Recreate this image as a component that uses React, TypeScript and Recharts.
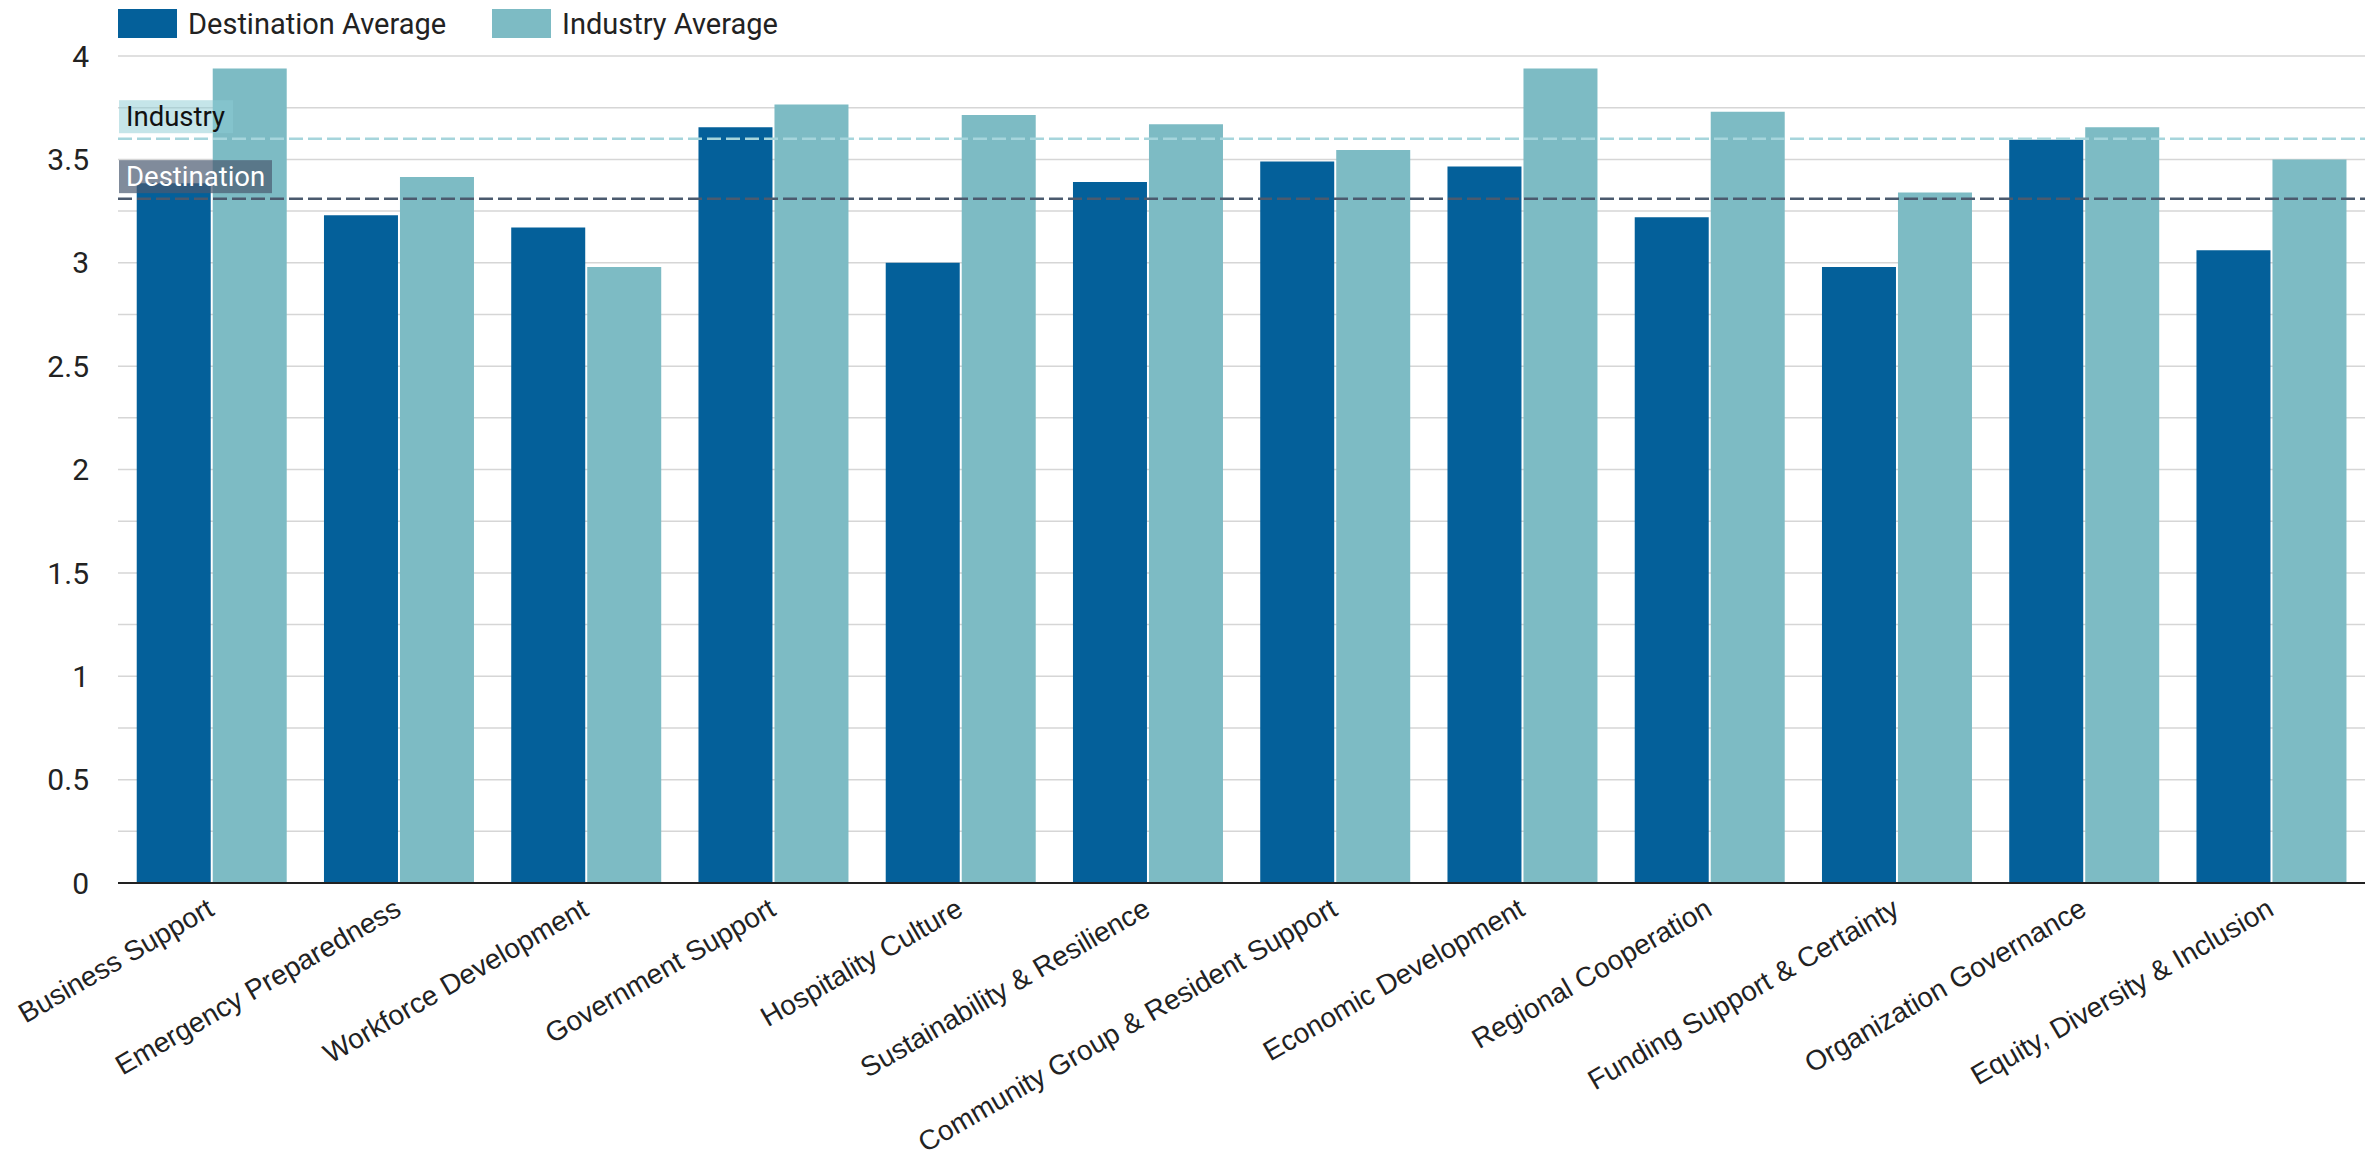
import React from "react";
import {
  BarChart,
  Bar,
  XAxis,
  YAxis,
  CartesianGrid,
  ReferenceLine,
} from "recharts";

const categories = [
  "Business Support",
  "Emergency Preparedness",
  "Workforce Development",
  "Government Support",
  "Hospitality Culture",
  "Sustainability & Resilience",
  "Community Group & Resident Support",
  "Economic Development",
  "Regional Cooperation",
  "Funding Support & Certainty",
  "Organization Governance",
  "Equity, Diversity & Inclusion",
];

const destinationAverage = [3.385, 3.23, 3.17, 3.655, 3.0, 3.39, 3.49, 3.465, 3.22, 2.98, 3.595, 3.06];
const industryAverage = [3.94, 3.415, 2.98, 3.765, 3.715, 3.67, 3.545, 3.94, 3.73, 3.34, 3.655, 3.5];

const yTicks = [0, 0.25, 0.5, 0.75, 1, 1.25, 1.5, 1.75, 2, 2.25, 2.5, 2.75, 3, 3.25, 3.5, 3.75, 4];

const industryRef = 3.6;
const destinationRef = 3.31;

const seriesNames = ["Destination Average", "Industry Average"];

const DARK = "#04609a";
const LIGHT = "#7dbbc4";

const data = categories.map((c, i) => ({
  name: c,
  destination: destinationAverage[i],
  industry: industryAverage[i],
}));

const XTick = (props: any) => {
  const { x, y, payload } = props;
  const tx = x + 4;
  const ty = y + 31;
  return (
    <text
      x={tx}
      y={ty}
      transform={`rotate(-30, ${tx}, ${ty})`}
      textAnchor="end"
      fontFamily="'Liberation Sans', Arial, sans-serif"
      fontSize={28}
      fill="#222"
    >
      {payload.value}
    </text>
  );
};

const RefLabel = (props: any) => {
  const { viewBox, text, boxWidth, fill, opacity, color } = props;
  if (!viewBox) return null;
  const x = viewBox.x + 1;
  const y = viewBox.y;
  return (
    <g>
      <rect x={x} y={y - 38.5} width={boxWidth} height={33} fill={fill} fillOpacity={opacity} />
      <text
        x={x + 7}
        y={y - 12.5}
        fontFamily="Roboto, sans-serif"
        fontSize={27.5}
        fill={color}
      >
        {text}
      </text>
    </g>
  );
};

const Legend = () => (
  <div style={{ position: "absolute", left: 0, top: 0, width: 900, height: 50, fontFamily: "Roboto, sans-serif", fontSize: 29, color: "#222" }}>
    <div style={{ position: "absolute", left: 118, top: 9, width: 59, height: 29, background: DARK }} />
    <div style={{ position: "absolute", left: 188, top: 5, lineHeight: "38px" }}>{seriesNames[0]}</div>
    <div style={{ position: "absolute", left: 492, top: 9, width: 59, height: 29, background: LIGHT }} />
    <div style={{ position: "absolute", left: 562, top: 5, lineHeight: "38px" }}>{seriesNames[1]}</div>
  </div>
);

export default function App() {
  return (
    <div style={{ position: "absolute", left: 0, top: 0, width: 2374, height: 1153, background: "#fff" }}>
      <BarChart
        width={2374}
        height={1153}
        data={data}
        margin={{ top: 56, right: 9, bottom: 10, left: 0 }}
        barCategoryGap="10%"
        barGap={2}
      >
        <CartesianGrid vertical={false} stroke="#d6d6d6" strokeWidth={1.5} />
        <XAxis
          dataKey="name"
          interval={0}
          height={260}
          tickLine={false}
          tickSize={0}
          tickMargin={0}
          axisLine={{ stroke: "#222", strokeWidth: 2 }}
          tick={<XTick />}
        />
        <YAxis
          width={118}
          domain={[0, 4]}
          ticks={yTicks}
          interval={0}
          axisLine={false}
          tickLine={false}
          tickSize={0}
          tickMargin={29}
          tickFormatter={(v: number) => (Math.abs(v * 2 - Math.round(v * 2)) < 1e-6 ? String(v) : "")}
          tick={{ fontFamily: "Roboto, sans-serif", fontSize: 30, fill: "#222" }}
        />
        <Bar dataKey="destination" name={seriesNames[0]} fill={DARK} isAnimationActive={false} />
        <Bar dataKey="industry" name={seriesNames[1]} fill={LIGHT} isAnimationActive={false} />
        <ReferenceLine
          y={industryRef}
          stroke="#a6d5dc"
          strokeWidth={2.5}
          strokeDasharray="14 5"
          label={<RefLabel text="Industry" boxWidth={114} fill="#8ccbd4" opacity={0.5} color="#111" />}
        />
        <ReferenceLine
          y={destinationRef}
          stroke="#4b5a6e"
          strokeWidth={2.5}
          strokeDasharray="14 5"
          label={<RefLabel text="Destination" boxWidth={153} fill="#4a5a70" opacity={0.7} color="#fff" />}
        />
      </BarChart>
      <Legend />
    </div>
  );
}
